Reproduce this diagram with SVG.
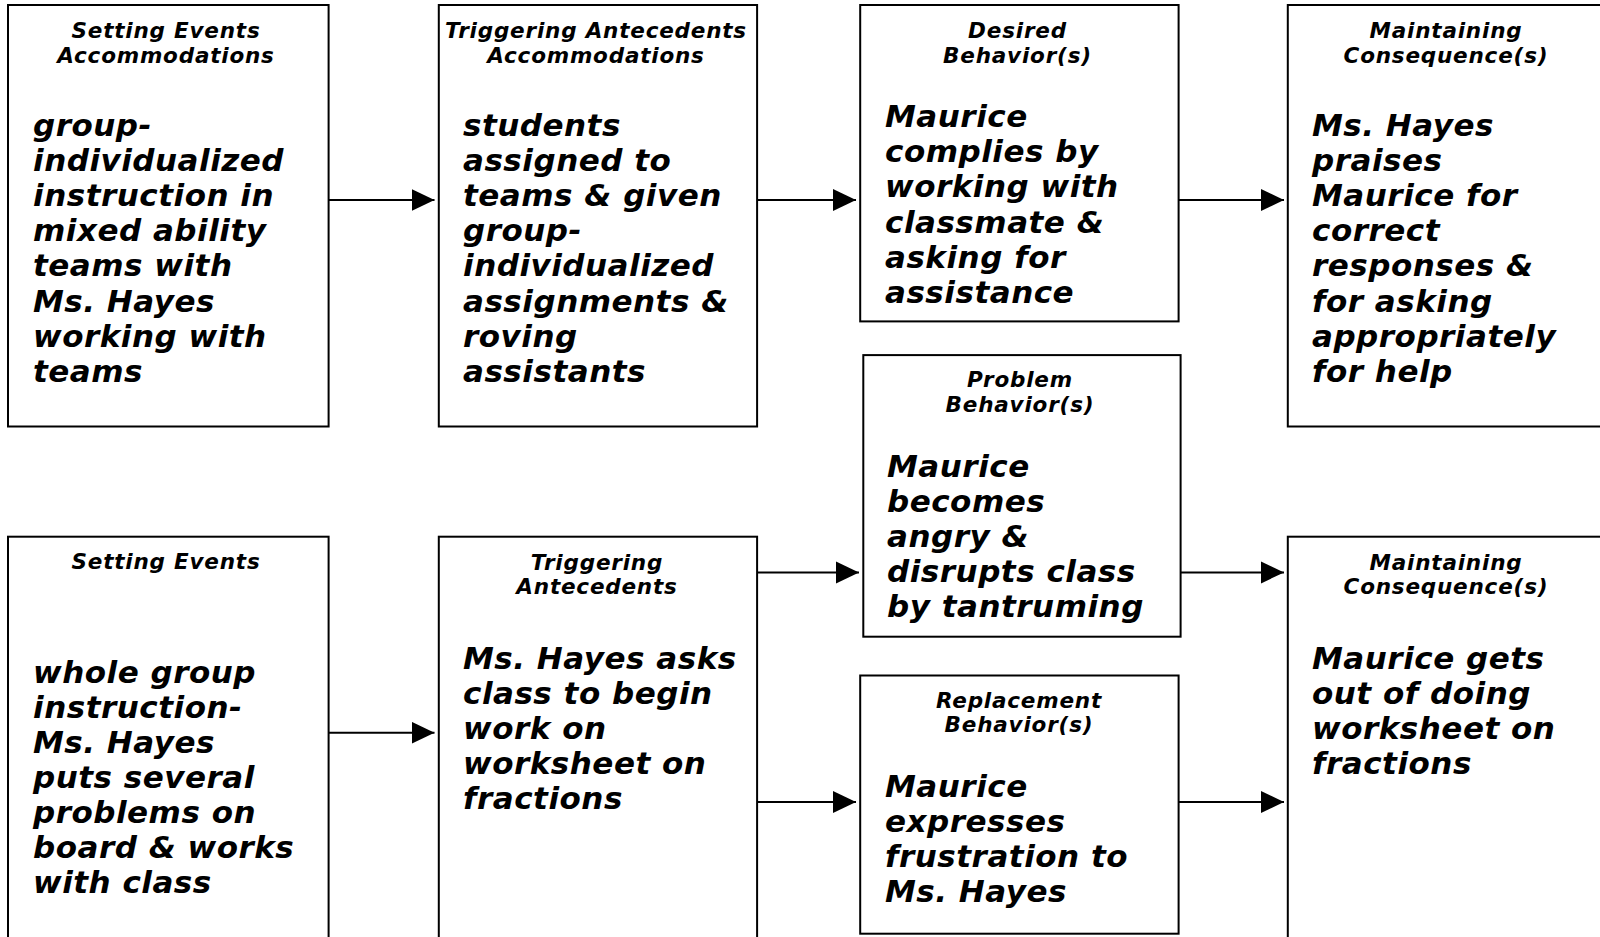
<svg xmlns="http://www.w3.org/2000/svg" width="1600" height="937" viewBox="0 0 1600 937">
<style>
  .box { fill: #ffffff; stroke: #000000; stroke-width: 2; }
  .hd { font-family: "DejaVu Sans", Verdana, sans-serif; font-weight: bold; font-style: italic; font-size: 21.5px; letter-spacing: 0.8px; text-anchor: middle; fill: #000; }
  .bd { font-family: "DejaVu Sans", Verdana, sans-serif; font-weight: bold; font-style: italic; font-size: 31px; letter-spacing: 0.5px; fill: #000; }
  .conn { stroke: #000000; stroke-width: 2; fill: none; marker-end: url(#arrow); }
</style>
<defs>
  <marker id="arrow" markerUnits="userSpaceOnUse" markerWidth="24" markerHeight="23" refX="23" refY="11" orient="auto">
    <path d="M0,0 L23,11 L0,22 Z" fill="#000000"/>
  </marker>
</defs>
<rect x="0" y="0" width="1600" height="937" fill="#ffffff"/>

<g id="connectors">
  <line class="conn" x1="328.6" y1="200" x2="434.5" y2="200"/>
  <line class="conn" x1="757" y1="200" x2="856" y2="200"/>
  <line class="conn" x1="1178.6" y1="200" x2="1284" y2="200"/>
  <line class="conn" x1="328.6" y1="732.7" x2="434.5" y2="732.7"/>
  <line class="conn" x1="757" y1="572.4" x2="859" y2="572.4"/>
  <line class="conn" x1="757" y1="802" x2="856" y2="802"/>
  <line class="conn" x1="1180.6" y1="572.4" x2="1284" y2="572.4"/>
  <line class="conn" x1="1178.6" y1="802" x2="1284" y2="802"/>
</g>

<g id="setting-events-accommodations">
  <rect class="box" x="8" y="5" width="320.6" height="421.5"/>
  <text class="hd"><tspan x="166" y="38">Setting Events</tspan><tspan x="166" y="62.5">Accommodations</tspan></text>
  <text class="bd">
    <tspan x="33" y="135.5">group-</tspan>
    <tspan x="33" y="170.7">individualized</tspan>
    <tspan x="33" y="205.9">instruction in</tspan>
    <tspan x="33" y="241.1">mixed ability</tspan>
    <tspan x="33" y="276.3">teams with</tspan>
    <tspan x="33" y="311.5">Ms. Hayes</tspan>
    <tspan x="33" y="346.7">working with</tspan>
    <tspan x="33" y="381.9">teams</tspan>
  </text>
</g>

<g id="triggering-antecedents-accommodations">
  <rect class="box" x="438.8" y="5" width="318.3" height="421.5"/>
  <text class="hd"><tspan x="596" y="38">Triggering Antecedents</tspan><tspan x="596" y="62.5">Accommodations</tspan></text>
  <text class="bd">
    <tspan x="463" y="135.5">students</tspan>
    <tspan x="463" y="170.7">assigned to</tspan>
    <tspan x="463" y="205.9">teams &amp; given</tspan>
    <tspan x="463" y="241.1">group-</tspan>
    <tspan x="463" y="276.3">individualized</tspan>
    <tspan x="463" y="311.5">assignments &amp;</tspan>
    <tspan x="463" y="346.7">roving</tspan>
    <tspan x="463" y="381.9">assistants</tspan>
  </text>
</g>

<g id="desired-behavior">
  <rect class="box" x="860.2" y="5" width="318.4" height="316.4"/>
  <text class="hd"><tspan x="1017.5" y="38">Desired</tspan><tspan x="1017.5" y="62.5">Behavior(s)</tspan></text>
  <text class="bd">
    <tspan x="885" y="127">Maurice</tspan>
    <tspan x="885" y="162.2">complies by</tspan>
    <tspan x="885" y="197.4">working with</tspan>
    <tspan x="885" y="232.6">classmate &amp;</tspan>
    <tspan x="885" y="267.8">asking for</tspan>
    <tspan x="885" y="303">assistance</tspan>
  </text>
</g>

<g id="maintaining-consequences-top">
  <rect class="box" x="1287.8" y="5" width="318" height="421.5"/>
  <text class="hd"><tspan x="1446" y="38">Maintaining</tspan><tspan x="1446" y="62.5">Consequence(s)</tspan></text>
  <text class="bd">
    <tspan x="1312" y="135.5">Ms. Hayes</tspan>
    <tspan x="1312" y="170.7">praises</tspan>
    <tspan x="1312" y="205.9">Maurice for</tspan>
    <tspan x="1312" y="241.1">correct</tspan>
    <tspan x="1312" y="276.3">responses &amp;</tspan>
    <tspan x="1312" y="311.5">for asking</tspan>
    <tspan x="1312" y="346.7">appropriately</tspan>
    <tspan x="1312" y="381.9">for help</tspan>
  </text>
</g>

<g id="problem-behavior">
  <rect class="box" x="863.3" y="355.1" width="317.3" height="281.6"/>
  <text class="hd"><tspan x="1020" y="387">Problem</tspan><tspan x="1020" y="412">Behavior(s)</tspan></text>
  <text class="bd">
    <tspan x="887" y="476.5">Maurice</tspan>
    <tspan x="887" y="511.7">becomes</tspan>
    <tspan x="887" y="546.9">angry &amp;</tspan>
    <tspan x="887" y="582.1">disrupts class</tspan>
    <tspan x="887" y="617.3">by tantruming</tspan>
  </text>
</g>

<g id="setting-events">
  <rect class="box" x="8" y="536.7" width="320.6" height="420"/>
  <text class="hd"><tspan x="166" y="569">Setting Events</tspan></text>
  <text class="bd">
    <tspan x="33" y="682.5">whole group</tspan>
    <tspan x="33" y="717.6">instruction-</tspan>
    <tspan x="33" y="752.7">Ms. Hayes</tspan>
    <tspan x="33" y="787.8">puts several</tspan>
    <tspan x="33" y="822.9">problems on</tspan>
    <tspan x="33" y="858">board &amp; works</tspan>
    <tspan x="33" y="893.1">with class</tspan>
  </text>
</g>

<g id="triggering-antecedents">
  <rect class="box" x="438.8" y="536.7" width="318.3" height="420"/>
  <text class="hd"><tspan x="597" y="569.5">Triggering</tspan><tspan x="597" y="594">Antecedents</tspan></text>
  <text class="bd">
    <tspan x="463" y="668.5">Ms. Hayes asks</tspan>
    <tspan x="463" y="703.6">class to begin</tspan>
    <tspan x="463" y="738.7">work on</tspan>
    <tspan x="463" y="773.8">worksheet on</tspan>
    <tspan x="463" y="808.9">fractions</tspan>
  </text>
</g>

<g id="replacement-behavior">
  <rect class="box" x="860.2" y="675.5" width="318.4" height="258.2"/>
  <text class="hd"><tspan x="1019" y="707.5">Replacement</tspan><tspan x="1019" y="732">Behavior(s)</tspan></text>
  <text class="bd">
    <tspan x="885" y="797">Maurice</tspan>
    <tspan x="885" y="832.1">expresses</tspan>
    <tspan x="885" y="867.2">frustration to</tspan>
    <tspan x="885" y="902.3">Ms. Hayes</tspan>
  </text>
</g>

<g id="maintaining-consequences-bottom">
  <rect class="box" x="1287.8" y="536.7" width="318" height="420"/>
  <text class="hd"><tspan x="1446" y="569.5">Maintaining</tspan><tspan x="1446" y="594">Consequence(s)</tspan></text>
  <text class="bd">
    <tspan x="1312" y="668.5">Maurice gets</tspan>
    <tspan x="1312" y="703.6">out of doing</tspan>
    <tspan x="1312" y="738.7">worksheet on</tspan>
    <tspan x="1312" y="773.8">fractions</tspan>
  </text>
</g>
</svg>
